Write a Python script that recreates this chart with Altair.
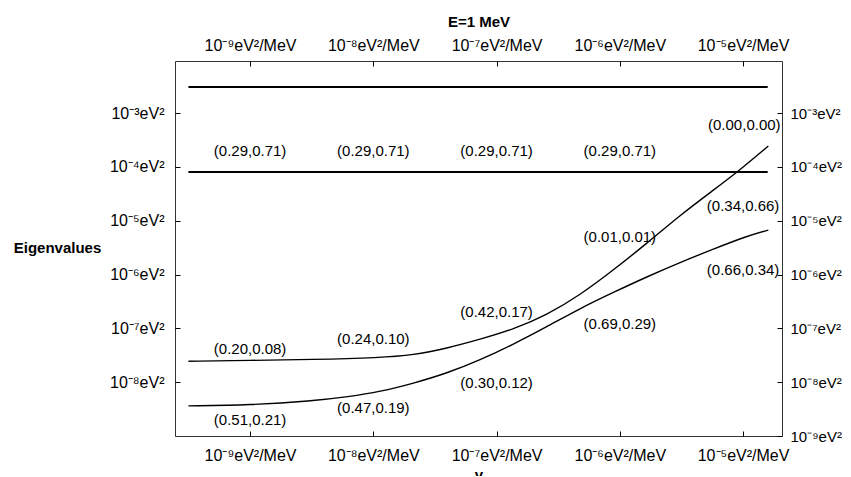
import altair as alt
import pandas as pd

# plot extent (log10 of the axis limits)
x_lo_exp, x_hi_exp = -9.609, -4.684
y_lo_exp, y_hi_exp = -9.0, -2.03

# flat eigenvalues (eV^2)
flat_levels = [3.07e-3, 8.1e-5]
flat_x_exp = [-9.5, -4.8]

# rising eigenvalues (log10 x, log10 y)
upper_x_exp = [-9.5, -9.0, -8.5, -7.945, -7.675, -7.404, -7.134, -6.864, -6.593,
               -6.323, -6.052, -5.781, -5.511, -5.241, -5.038, -4.795]
upper_y_exp = [-7.61, -7.595, -7.58, -7.545, -7.495, -7.371, -7.204, -7.018, -6.752,
               -6.381, -5.916, -5.420, -4.895, -4.43, -4.080, -3.61]
lower_x_exp = [-9.5, -9.0, -8.5, -8.2, -7.945, -7.675, -7.404, -7.134, -6.864, -6.593,
               -6.323, -6.052, -5.781, -5.511, -5.241, -4.970, -4.795]
lower_y_exp = [-8.44, -8.425, -8.35, -8.27, -8.177, -8.021, -7.835, -7.588, -7.296, -6.970,
               -6.628, -6.330, -6.041, -5.773, -5.526, -5.285, -5.173]

# annotations
label_text = ["(0.29,0.71)", "(0.29,0.71)", "(0.29,0.71)", "(0.29,0.71)",
              "(0.00,0.00)", "(0.34,0.66)", "(0.01,0.01)", "(0.66,0.34)",
              "(0.42,0.17)", "(0.69,0.29)", "(0.30,0.12)",
              "(0.20,0.08)", "(0.24,0.10)", "(0.51,0.21)", "(0.47,0.19)"]
label_x_exp = [-9.0, -8.0, -7.0, -6.0,
               -4.99, -5.0, -6.0, -5.0,
               -7.0, -6.0, -7.0,
               -9.0, -8.0, -9.0, -8.0]
label_y_exp = [-3.70, -3.70, -3.70, -3.70,
               -3.22, -4.72, -5.30, -5.91,
               -6.70, -6.92, -8.01,
               -7.38, -7.20, -8.70, -8.48]

# ticks
x_tick_exp = [-9, -8, -7, -6, -5]
x_tick_labels = ["10⁻⁹eV²/MeV", "10⁻⁸eV²/MeV", "10⁻⁷eV²/MeV", "10⁻⁶eV²/MeV", "10⁻⁵eV²/MeV"]
y_left_exp = [-8, -7, -6, -5, -4, -3]
y_right_exp = [-9, -8, -7, -6, -5, -4, -3]
y_tick_labels = ["10⁻⁹eV²", "10⁻⁸eV²", "10⁻⁷eV²", "10⁻⁶eV²", "10⁻⁵eV²", "10⁻⁴eV²", "10⁻³eV²"]

FONT = "Liberation Sans"

flat_df = pd.DataFrame({
    "x": [10 ** e for e in flat_x_exp] * len(flat_levels),
    "y": [v for v in flat_levels for _ in flat_x_exp],
    "s": [f"f{i}" for i in range(len(flat_levels)) for _ in flat_x_exp],
})
curve_df = pd.concat([
    pd.DataFrame({"x": [10 ** e for e in upper_x_exp], "y": [10 ** e for e in upper_y_exp], "s": "upper"}),
    pd.DataFrame({"x": [10 ** e for e in lower_x_exp], "y": [10 ** e for e in lower_y_exp], "s": "lower"}),
])
label_df = pd.DataFrame({
    "x": [10 ** e for e in label_x_exp],
    "y": [10 ** e for e in label_y_exp],
    "t": label_text,
})

def arr(labels):
    return "[" + ",".join("'" + s + "'" for s in labels) + "]"

x_expr = arr(x_tick_labels) + "[round(log(datum.value)/LN10)+9]"
y_expr = arr(y_tick_labels) + "[round(log(datum.value)/LN10)+9]"

W, H = 607, 375
xscale = alt.Scale(type="log", domain=[10 ** x_lo_exp, 10 ** x_hi_exp], nice=False)
yscale = alt.Scale(type="log", domain=[10 ** y_lo_exp, 10 ** y_hi_exp], nice=False)

common = dict(domain=False, grid=False, tickSize=5, offset=-5, tickColor="#000000",
              tickWidth=1, labelFont=FONT, labelColor="#000000",
              labelFlush=False, labelOverlap=False, titleFont=FONT, titleFontSize=15,
              titleFontWeight="bold", titleColor="#000000")

x_bottom = alt.Axis(orient="bottom", values=[10 ** e for e in x_tick_exp], labelExpr=x_expr,
                    title="v", titleX=W / 2, titleY=43, titleAlign="center",
                    titleBaseline="middle", labelPadding=11, labelFontSize=16, **common)
x_top = alt.Axis(orient="top", values=[10 ** e for e in x_tick_exp], labelExpr=x_expr,
                 title="E=1  MeV", titleX=W / 2, titleY=-45, titleAlign="center",
                 titleBaseline="middle", labelPadding=8, labelFontSize=16, **common)
y_left = alt.Axis(orient="left", values=[10 ** e for e in y_left_exp], labelExpr=y_expr,
                  title="Eigenvalues", titleAngle=0, titleX=-123, titleY=186,
                  titleAlign="center", titleBaseline="middle", labelPadding=11,
                  labelFontSize=16, **common)
y_right = alt.Axis(orient="right", values=[10 ** e for e in y_right_exp], labelExpr=y_expr,
                   title=None, labelPadding=8, labelFontSize=15, **common)

flat = alt.Chart(flat_df).mark_line(color="#000000", strokeWidth=2).encode(
    x=alt.X("x:Q", scale=xscale, axis=x_bottom),
    y=alt.Y("y:Q", scale=yscale, axis=y_left),
    detail="s:N",
)
curves = alt.Chart(curve_df).mark_line(color="#000000", strokeWidth=1.4, interpolate="basis").encode(
    x=alt.X("x:Q", scale=xscale, axis=None),
    y=alt.Y("y:Q", scale=yscale, axis=None),
    detail="s:N",
)
labels = alt.Chart(label_df).mark_text(font=FONT, fontSize=15, color="#000000",
                                       align="center", baseline="middle").encode(
    x=alt.X("x:Q", scale=xscale, axis=x_top),
    y=alt.Y("y:Q", scale=yscale, axis=y_right),
    text="t:N",
)

chart = alt.layer(flat, curves, labels).properties(
    width=W, height=H,
    autosize=alt.AutoSizeParams(type="none"),
    padding={"left": 167, "top": 53, "right": 61, "bottom": 40},
).configure_view(stroke="#333333", strokeWidth=1)

chart.save("out.html", embed_options={"renderer": "svg", "actions": False})
